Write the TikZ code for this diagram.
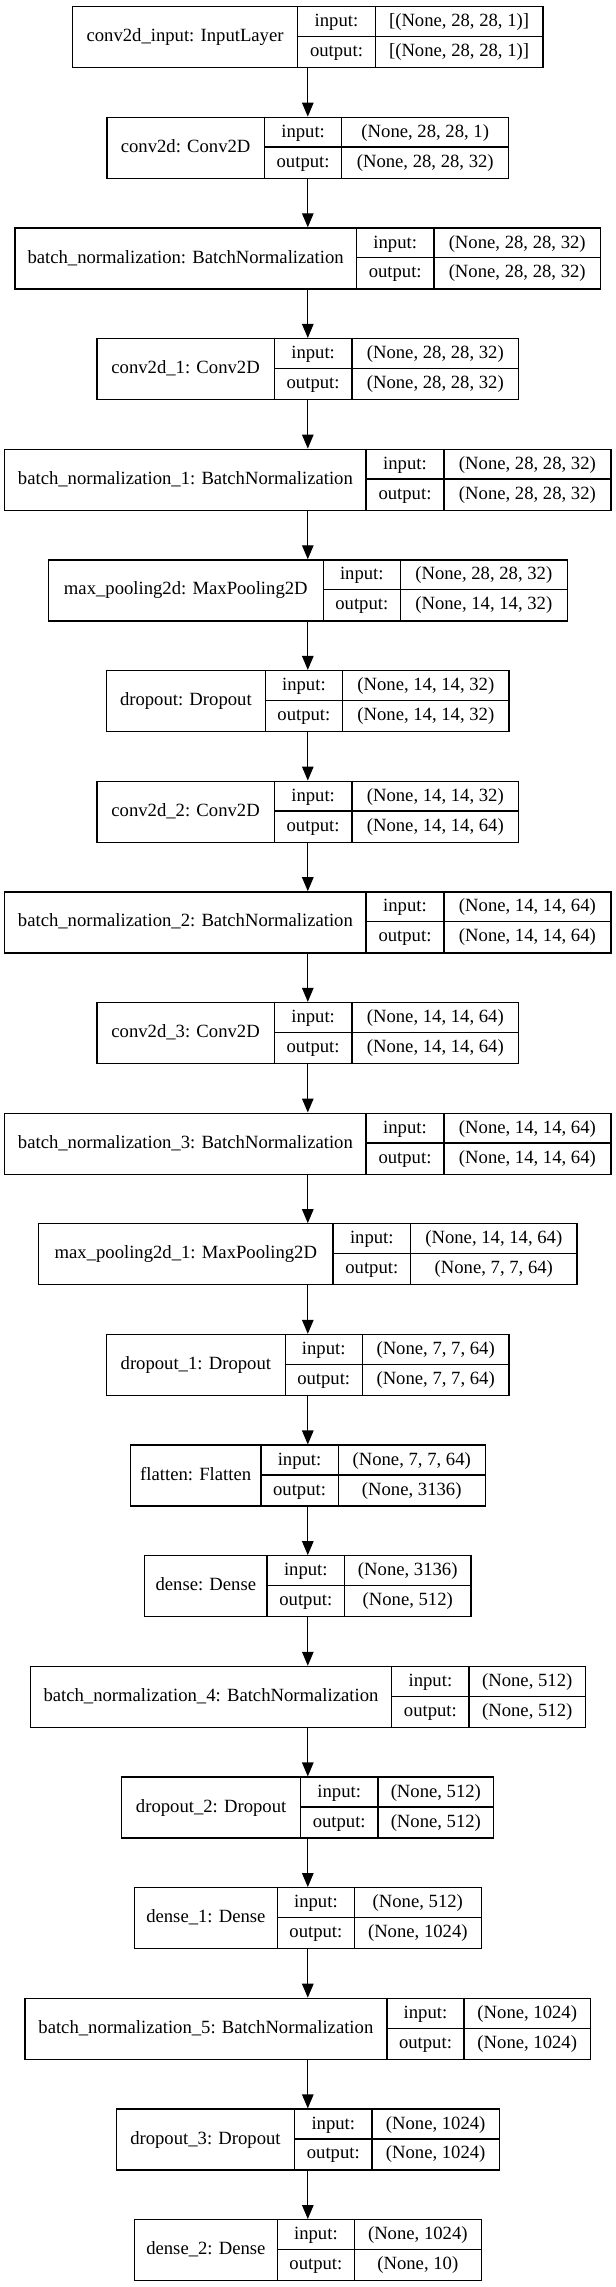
\documentclass[tikz,border=0pt]{standalone}
\usepackage{fontspec}
\setmainfont{Liberation Serif}
\usetikzlibrary{arrows.meta}

\tikzset{
  layerbox/.style={draw, line width=1pt, minimum height=45.75pt, inner sep=0pt},
  cellrule/.style={line width=1pt},
  celltext/.style={anchor=base, inner sep=0pt, font=\fontsize{14pt}{16pt}\selectfont},
  flow/.style={line width=1pt, -{Triangle[length=10.5pt, width=8.6pt]}},
}

% #1 index, #2 left, #3 first split, #4 second split, #5 right,
% #6 layer, #7 input shape, #8 output shape
\newcommand{\kerasbox}[8]{%
  \pgfmathsetmacro\lytop{6+#1*110.65}
  \node[layerbox, minimum width={(#5-#2)*0.75pt}, anchor=north] (l#1) at (307.8,\lytop) {};
  \draw[cellrule] ({#3},\lytop) -- ({#3},{\lytop+61});
  \draw[cellrule] ({#4},\lytop) -- ({#4},{\lytop+61});
  \draw[cellrule] ({#3},{\lytop+30.5}) -- ({#5},{\lytop+30.5});
  \node[celltext] (l#1-name) at ({(#2+#3)/2},{\lytop+35.7}) {#6};
  \node[celltext] (l#1-ik) at ({(#3+#4)/2},{\lytop+20.7}) {input:};
  \node[celltext] (l#1-ok) at ({(#3+#4)/2},{\lytop+50.6}) {output:};
  \node[celltext] (l#1-iv) at ({(#4+#5)/2},{\lytop+20.7}) {#7};
  \node[celltext] (l#1-ov) at ({(#4+#5)/2},{\lytop+50.6}) {#8};
}

\begin{document}
\begin{tikzpicture}[x=0.75pt, y=-0.75pt]
  \fill[white] (0,0) rectangle (616,2287);
  \useasboundingbox (0,0) rectangle (616,2287);

  % layers, top to bottom
  \kerasbox{0}{72.3}{297.8}{375.2}{542.9}{conv2d\_input: InputLayer}{[(None, 28, 28, 1)]}{[(None, 28, 28, 1)]}
  \kerasbox{1}{106.9}{264.4}{341.8}{508.7}{conv2d: Conv2D}{(None, 28, 28, 1)}{(None, 28, 28, 32)}
  \kerasbox{2}{14.9}{356.3}{434.1}{600.3}{batch\_normalization: BatchNormalization}{(None, 28, 28, 32)}{(None, 28, 28, 32)}
  \kerasbox{3}{97}{274.2}{352}{518.6}{conv2d\_1: Conv2D}{(None, 28, 28, 32)}{(None, 28, 28, 32)}
  \kerasbox{4}{4.7}{366.1}{443.9}{610.9}{batch\_normalization\_1: BatchNormalization}{(None, 28, 28, 32)}{(None, 28, 28, 32)}
  \kerasbox{5}{48.3}{323.3}{400.3}{567.3}{max\_pooling2d: MaxPooling2D}{(None, 28, 28, 32)}{(None, 14, 14, 32)}
  \kerasbox{6}{106.5}{265.2}{342.6}{509.1}{dropout: Dropout}{(None, 14, 14, 32)}{(None, 14, 14, 32)}
  \kerasbox{7}{97}{274.2}{352}{518.6}{conv2d\_2: Conv2D}{(None, 14, 14, 32)}{(None, 14, 14, 64)}
  \kerasbox{8}{4.7}{366.1}{443.9}{610.9}{batch\_normalization\_2: BatchNormalization}{(None, 14, 14, 64)}{(None, 14, 14, 64)}
  \kerasbox{9}{97}{274.2}{352}{518.6}{conv2d\_3: Conv2D}{(None, 14, 14, 64)}{(None, 14, 14, 64)}
  \kerasbox{10}{4.7}{366.1}{443.9}{610.9}{batch\_normalization\_3: BatchNormalization}{(None, 14, 14, 64)}{(None, 14, 14, 64)}
  \kerasbox{11}{38.5}{333.1}{410.5}{577.1}{max\_pooling2d\_1: MaxPooling2D}{(None, 14, 14, 64)}{(None, 7, 7, 64)}
  \kerasbox{12}{106.5}{285.2}{362.2}{509.1}{dropout\_1: Dropout}{(None, 7, 7, 64)}{(None, 7, 7, 64)}
  \kerasbox{13}{130.4}{260.9}{338.2}{485.2}{flatten: Flatten}{(None, 7, 7, 64)}{(None, 3136)}
  \kerasbox{14}{144.6}{267.1}{344.5}{471}{dense: Dense}{(None, 3136)}{(None, 512)}
  \kerasbox{15}{30.2}{391.7}{469.1}{585.3}{batch\_normalization\_4: BatchNormalization}{(None, 512)}{(None, 512)}
  \kerasbox{16}{121.8}{300.5}{377.9}{493.8}{dropout\_2: Dropout}{(None, 512)}{(None, 512)}
  \kerasbox{17}{134.4}{277.4}{354.4}{481.2}{dense\_1: Dense}{(None, 512)}{(None, 1024)}
  \kerasbox{18}{24.7}{387}{464}{590.5}{batch\_normalization\_5: BatchNormalization}{(None, 1024)}{(None, 1024)}
  \kerasbox{19}{116.3}{294.6}{372}{499.3}{dropout\_3: Dropout}{(None, 1024)}{(None, 1024)}
  \kerasbox{20}{134.4}{277.4}{354.4}{481.2}{dense\_2: Dense}{(None, 1024)}{(None, 10)}

  % arrows between layers
  \foreach \i [evaluate=\i as \j using int(\i+1)] in {0,...,19}
    \draw[flow] (l\i.south) -- (l\j.north);
\end{tikzpicture}
\end{document}
